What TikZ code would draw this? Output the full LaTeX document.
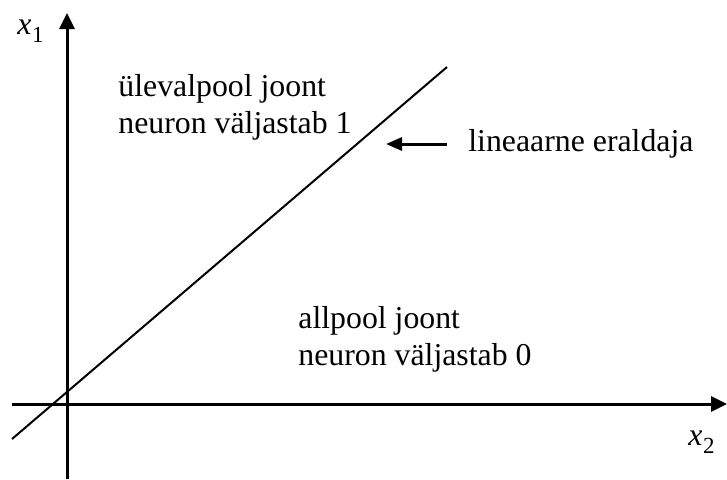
\documentclass[tikz,border=0pt]{standalone}
\usepackage{fontspec}
\setmainfont{Liberation Serif}
\usetikzlibrary{arrows.meta}
\newcommand{\myvar}[2]{\textit{#1}\kern0.02em\raisebox{-0.28em}{\fontsize{11.5}{11.5}\selectfont #2}}
\begin{document}
\begin{tikzpicture}[x=0.5pt,y=-0.5pt,
  axis/.style={line width=1.5pt,-{Triangle[length=8pt,width=7.5pt]}},
  sep/.style={line width=1pt},
  pointer/.style={line width=1.5pt,-{Triangle[length=8pt,width=6.5pt]}},
  lbl/.style={anchor=base west,inner sep=0pt,font=\fontsize{15.9}{18.5}\selectfont}]
\useasboundingbox (0,0) rectangle (727,479);
% axes
\coordinate (ybot) at (67,479);
\coordinate (ytop) at (67,13);
\coordinate (xleft) at (12,404);
\coordinate (xright) at (727,404);
\draw[axis] (ybot) -- (ytop);
\draw[axis] (xleft) -- (xright);
% separator line
\coordinate (s1) at (12,439);
\coordinate (s2) at (447,67);
\draw[sep] (s1) -- (s2);
% axis labels
\node[lbl] (x1) at (17,34) {\myvar{x}{1}};
\node[lbl] (x2) at (688,445) {\myvar{x}{2}};
% texts
\node[lbl] (t1) at (118,96) {ülevalpool joont};
\node[lbl] (t2) at (118,133) {neuron väljastab 1};
\node[lbl] (t3) at (468,151) {lineaarne eraldaja};
\node[lbl] (t4) at (298,328) {allpool joont};
\node[lbl] (t5) at (298,365) {neuron väljastab 0};
% pointer
\coordinate (ptail) at (447,144);
\coordinate (ptip) at (386,144);
\draw[pointer] (ptail) -- (ptip);
\end{tikzpicture}
\end{document}
